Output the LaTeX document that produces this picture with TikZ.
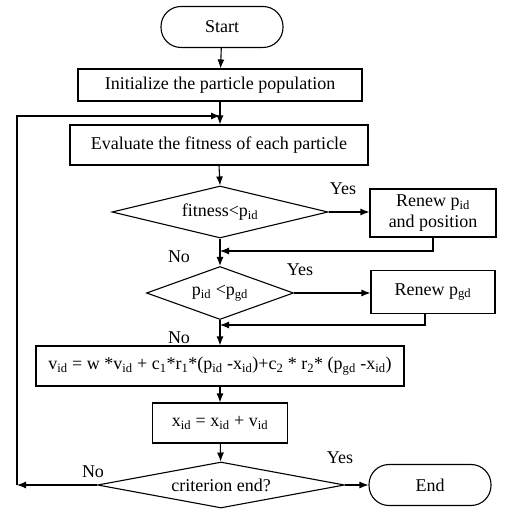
\documentclass[tikz,border=0pt]{standalone}
\usepackage{fontspec}
\setmainfont{Liberation Serif}
\usetikzlibrary{arrows}
\usetikzlibrary{calc}
\usetikzlibrary{shapes.geometric}
\usetikzlibrary{arrows.meta}
\newcommand{\lowidx}[1]{\textsubscript{#1}}

\begin{document}
\begin{tikzpicture}[->,>={Latex[length=9pt,width=7pt]},x=1pt,y=-1pt,line width=1.1pt]
	\tikzset{process/.style = {shape=rectangle, draw, align=center, inner sep=0pt},
		terminal/.style = {shape=rectangle, rounded corners=20pt, draw, inner sep=0pt, minimum width=122pt, minimum height=41pt},
		decision/.style = {shape=diamond, draw, inner sep=0pt, aspect=4},
		tag/.style = {inner sep=0pt}}
	\fontsize{18}{20.5}\selectfont
	\useasboundingbox (0,0) rectangle (530,526);
	
	\node[terminal] (START) at (222,27) {Start};
	\node[process, minimum width=284pt, minimum height=32pt] (INIT) at (220,85) {Initialize the particle population};
	\node[process, minimum width=298pt, minimum height=40pt] (EVAL) at (219,145) {Evaluate the fitness of each particle};
	\node[decision, minimum width=216pt, minimum height=52pt] (FIT) at (220,212) {fitness<p\lowidx{id}};
	\node[process, minimum width=126pt, minimum height=48pt] (RPID) at (433,213) {Renew p\lowidx{id}\\and position};
	\node[decision, minimum width=147pt, minimum height=53pt] (PG) at (220,293) {p\lowidx{id} <p\lowidx{gd}};
	\node[process, minimum width=124pt, minimum height=43pt] (RPGD) at (433,292) {Renew p\lowidx{gd}};
	\node[process, minimum width=368pt, minimum height=40pt] (VBOX) at (220,366)
	{v\lowidx{id} = w *v\lowidx{id} + c\lowidx{1}*r\lowidx{1}*(p\lowidx{id} -x\lowidx{id})+c\lowidx{2} * r\lowidx{2}* (p\lowidx{gd} -x\lowidx{id})};
	\node[process, minimum width=135pt, minimum height=40pt] (XBOX) at (220,423) {x\lowidx{id} = x\lowidx{id} + v\lowidx{id}};
	\node[decision, minimum width=247pt, minimum height=46pt] (CRIT) at (221,485) {criterion end?};
	\node[terminal] (END) at (430,485) {End};
	
	% yes / no marks
	\node[tag] (YES1) at (343,189) {Yes};
	\node[tag] (NO1) at (179,257) {No};
	\node[tag] (YES2) at (300,270) {Yes};
	\node[tag] (NO2) at (179,338) {No};
	\node[tag] (NO3) at (93,472) {No};
	\node[tag] (YES3) at (340,458) {Yes};
	
	\coordinate (LOOPL) at (17,485);
	\coordinate (LOOPT) at (17,116);
	\coordinate (J1) at (220,251);
	\coordinate (J2) at (220,325);
	
	\draw (START) -- (INIT);
	\draw (INIT.south) -- (INIT.south |- EVAL.north);
	\draw (EVAL.south) -- (FIT.north);
	\draw (FIT.east) -- (FIT.east -| RPID.west);
	\draw (RPID.south) |- (J1);
	\draw (FIT.south) -- (PG.north);
	\draw (PG.east) -- (PG.east -| RPGD.west);
	\draw ([xshift=-8pt]RPGD.south) |- (J2);
	\draw (PG.south) -- (VBOX.north);
	\draw (VBOX) -- (XBOX);
	\draw (XBOX) -- (CRIT);
	\draw (CRIT.east) -- (END.west);
	\draw (CRIT.west) -- (LOOPL);
	\draw (LOOPL) -- (LOOPT) -- (INIT.south |- LOOPT);
\end{tikzpicture}
\end{document}
